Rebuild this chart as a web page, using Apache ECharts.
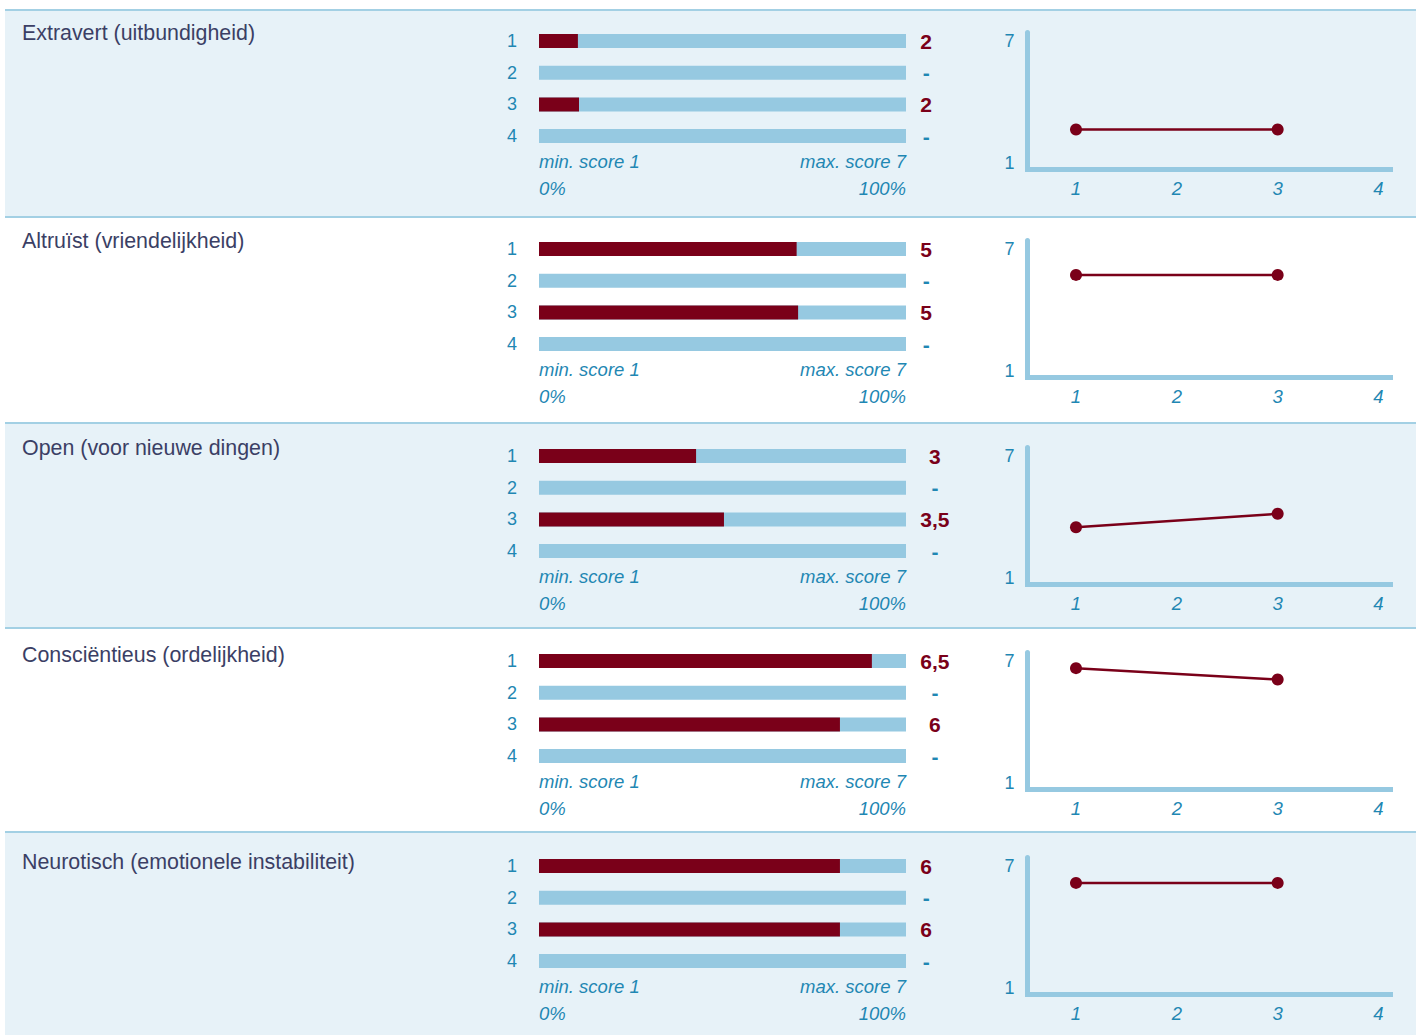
<!DOCTYPE html>
<html><head><meta charset="utf-8">
<script src="https://cdn.jsdelivr.net/npm/echarts@6/dist/echarts.min.js"></script>
<style>html,body{margin:0;padding:0;background:#fff}#c{width:1416px;height:1035px}</style>
</head><body><div id="c"></div>
<script>
// ---------- DATA ----------
const traits = ['Extravert (uitbundigheid)', 'Altruïst (vriendelijkheid)', 'Open (voor nieuwe dingen)', 'Consciëntieus (ordelijkheid)', 'Neurotisch (emotionele instabiliteit)'];
const measurements = ['1', '2', '3', '4'];
const measurementNumbers = [1, 2, 3, 4];
// bar fill (% of the min-max score range) per trait, per measurement
const barFillPct = [
  [10.6, null, 10.9, null],
  [70.2, null, 70.6, null],
  [42.8, null, 50.4, null],
  [90.7, null, 82.0, null],
  [82.0, null, 82.0, null]
];
// score labels shown right of the bars
const scoreText = [
  ['2', '-', '2', '-'],
  ['5', '-', '5', '-'],
  ['3', '-', '3,5', '-'],
  ['6,5', '-', '6', '-'],
  ['6', '-', '6', '-']
];
// line chart scores (1..7 scale) per trait, per measurement
const lineScore = [
  [2.64, null, 2.64, null],
  [5.72, null, 5.72, null],
  [3.49, null, 4.15, null],
  [6.64, null, 6.08, null],
  [6.16, null, 6.16, null]
];
const barScaleLabels = ['min. score 1', 'max. score 7'];
const barPctLabels = ['0%', '100%'];
const lineYTicks = [1, 7];

// ---------- STYLE / LAYOUT ----------
const FONT = "'Liberation Sans', Arial, sans-serif";
const RED = '#7a0019', TEAL = '#1f87b3', TRACK = '#96c9e1', BG = '#e7f2f8', SEP = '#a3d0e4', TITLE = '#3b3f65';
const rowSep = [10, 217, 423, 628, 832];
const rowBase = [8, 216, 423, 628, 833];
const titleY = [33, 241, 448, 655, 862];
const W = 1416, H = 1035;
const SMALL = 18, ITAL = 18.5, BIG = 21;

function textWidth(t, font) {
  const c = document.createElement('canvas').getContext('2d');
  c.font = font; return c.measureText(t).width;
}

const chart = echarts.init(document.getElementById('c'), null, {renderer: 'svg', width: W, height: H});

const graphic = [];
rowSep.forEach((y, i) => {
  const next = i < rowSep.length - 1 ? rowSep[i + 1] : H;
  if (i % 2 === 0) graphic.push({type: 'rect', silent: true, z: -10, shape: {x: 5, y: y, width: W - 5, height: next - y}, style: {fill: BG}});
  graphic.push({type: 'line', silent: true, z: -5, shape: {x1: 5, y1: y, x2: W, y2: y}, style: {stroke: SEP, lineWidth: 2}});
});

const title = [], grid = [], xAxis = [], yAxis = [], series = [];
traits.forEach((name, i) => {
  const b = rowBase[i];
  title.push({text: name, left: 22, top: titleY[i] - 11, padding: 0,
    textStyle: {fontFamily: FONT, fontSize: 21.4, fontWeight: 'normal', color: TITLE}});
  grid.push({left: 539, width: 367, top: b + 17.15, height: 126.8});
  grid.push({left: 1027.5, width: 363, top: b + 24.5, height: 137});
  const gb = 2 * i, gl = 2 * i + 1;
  const common = {axisLine: {show: false}, axisTick: {show: false}, splitLine: {show: false}};
  xAxis.push(Object.assign({type: 'value', gridIndex: gb, min: 0, max: 100,
    axisLabel: {customValues: [0, 100], formatter: v => v === 0 ? barScaleLabels[0] : barScaleLabels[1],
      alignMinLabel: 'left', alignMaxLabel: 'right', fontFamily: FONT, fontSize: ITAL, fontStyle: 'italic', color: TEAL, margin: 0}}, common));
  xAxis.push(Object.assign({type: 'value', gridIndex: gb, min: 0, max: 100, position: 'bottom', offset: 27,
    axisLabel: {customValues: [0, 100], formatter: v => v === 0 ? barPctLabels[0] : barPctLabels[1],
      alignMinLabel: 'left', alignMaxLabel: 'right', fontFamily: FONT, fontSize: ITAL, fontStyle: 'italic', color: TEAL, margin: 0}}, common));
  xAxis.push({type: 'value', gridIndex: gl, min: 0.519, max: 4.119,
    axisLine: {show: true, lineStyle: {color: TRACK, width: 5, cap: 'square'}},
    axisTick: {show: false}, splitLine: {show: false},
    axisLabel: {customValues: measurementNumbers, fontFamily: FONT, fontSize: ITAL, fontStyle: 'italic', color: TEAL, margin: 9}});

  const maxW = Math.max(...scoreText[i].map(t => textWidth(t, 'bold ' + BIG + 'px ' + FONT)));
  yAxis.push(Object.assign({type: 'category', gridIndex: gb, data: measurements, inverse: true,
    axisLabel: {fontFamily: FONT, fontSize: SMALL, color: TEAL, margin: 22}}, common));
  yAxis.push(Object.assign({type: 'category', gridIndex: gb, data: measurements, inverse: true, position: 'right',
    axisLabel: {align: 'center', margin: 14.3 + maxW / 2,
      formatter: (v, idx) => scoreText[i][idx] === '-' ? '{d|-}' : '{v|' + scoreText[i][idx] + '}',
      rich: {v: {fontFamily: FONT, fontSize: BIG, fontWeight: 'bold', color: RED},
             d: {fontFamily: FONT, fontSize: BIG, fontWeight: 'bold', color: TEAL}}}}, common));
  yAxis.push({type: 'value', gridIndex: gl, min: 0.675, max: 7.41,
    axisLine: {show: true, lineStyle: {color: TRACK, width: 5}},
    axisTick: {show: false}, splitLine: {show: false},
    axisLabel: {customValues: lineYTicks, fontFamily: FONT, fontSize: SMALL, color: TEAL, margin: 13}});

  series.push({type: 'bar', xAxisIndex: 3 * i, yAxisIndex: 3 * i, data: barFillPct[i], barWidth: 14,
    itemStyle: {color: RED}, showBackground: true, backgroundStyle: {color: TRACK}, silent: true});
  const pts = [];
  measurementNumbers.forEach((m, k) => { if (lineScore[i][k] != null) pts.push([m, lineScore[i][k]]); });
  series.push({type: 'line', xAxisIndex: 3 * i + 2, yAxisIndex: 3 * i + 2, data: pts,
    symbol: 'circle', symbolSize: 12, lineStyle: {color: RED, width: 2.5}, itemStyle: {color: RED}, silent: true});
});

chart.setOption({animation: false, backgroundColor: '#fff', graphic, title, grid, xAxis, yAxis, series});
</script>
</body></html>
